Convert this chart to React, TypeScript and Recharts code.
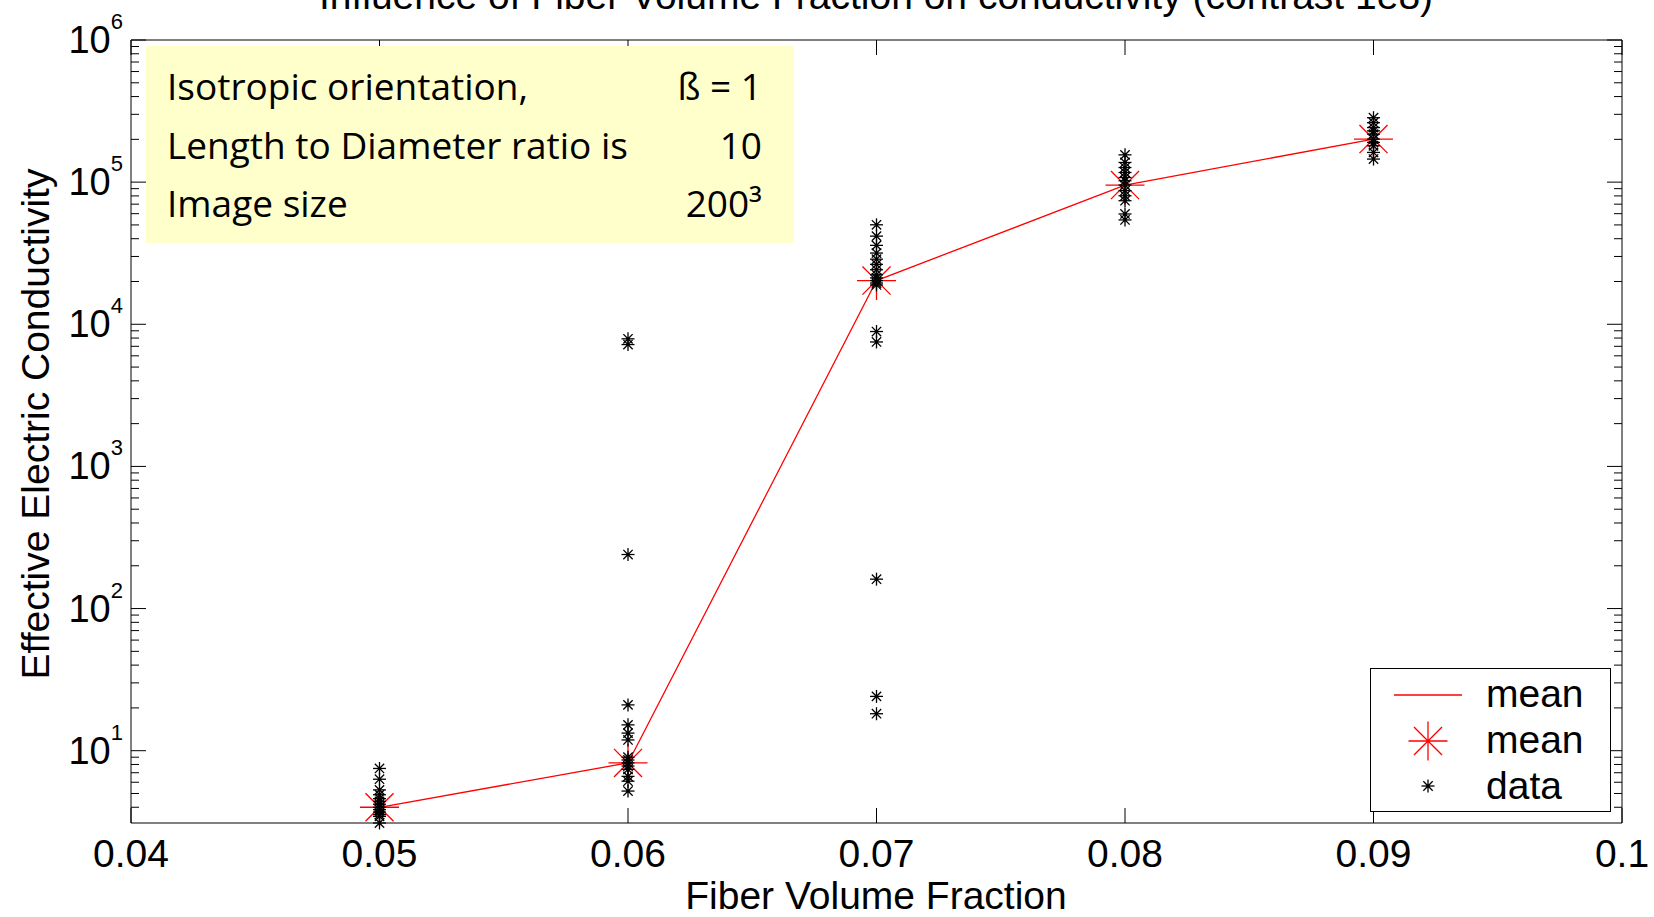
import React from "react";
import { ScatterChart, Scatter, XAxis, YAxis, Legend } from "recharts";

const W = 1654;
const H = 917;
const SANS = '"Liberation Sans", Arial, Helvetica, sans-serif';
const BOX_FONT = '"Open Sans", "Noto Sans", sans-serif';

// fiber volume fractions and the mean conductivity at each
const FRACTIONS = [0.05, 0.06, 0.07, 0.08, 0.09];
const MEAN_CONDUCTIVITY = [4.0, 8.2, 20300, 95400, 200800];

// individual samples
const SAMPLES_005 = [7.5, 6.3, 5.3, 4.9, 4.6, 4.4, 4.2, 4.0, 3.85, 3.7, 3.55, 3.45, 3.1];
const SAMPLES_006 = [7900, 7200, 240, 21, 15.2, 13.3, 11.9, 9.0, 8.6, 8.2, 7.8, 7.4, 6.6, 6.1, 5.2];
const SAMPLES_007 = [50100, 41700, 35900, 31700, 28700, 26400, 24200, 22300, 21200, 20300, 19500, 18900, 8890, 7510, 161, 24.1, 18.2];
const SAMPLES_008 = [155600, 137500, 126700, 116900, 107800, 102300, 95400, 87100, 80200, 74000, 59700, 54200];
const SAMPLES_009 = [284000, 262000, 242000, 229500, 217600, 200800, 190200, 180300, 161800, 145300];
const SAMPLES = [SAMPLES_005, SAMPLES_006, SAMPLES_007, SAMPLES_008, SAMPLES_009];

const X_TICKS = [0.04, 0.05, 0.06, 0.07, 0.08, 0.09, 0.1];
const X_TICK_LABELS = ["0.04", "0.05", "0.06", "0.07", "0.08", "0.09", "0.1"];
const Y_MAJOR_TICKS = [10, 100, 1000, 10000, 100000, 1000000];
const Y_EXPONENTS = ["1", "2", "3", "4", "5", "6"];
const Y_DOMAIN = [3.1, 1000000];

const INFO_LABELS = ["Isotropic orientation,", "Length to Diameter ratio is", "Image size"];
const INFO_VALUES = ["ß = 1", "10", "200³"];

const LEGEND_LABELS = ["mean", "mean", "data"];

// log minor ticks 2..9 within each decade
const Y_MINOR_TICKS = [1, 10, 100, 1000, 10000, 100000]
  .flatMap((d) => [2, 3, 4, 5, 6, 7, 8, 9].map((m) => m * d))
  .filter((v) => v >= Y_DOMAIN[0]);
const Y_TICKS = [...Y_MINOR_TICKS, ...Y_MAJOR_TICKS].sort((a, b) => a - b);

const meanPoints = FRACTIONS.map((x, i) => ({ x, y: MEAN_CONDUCTIVITY[i] }));
const samplePoints = FRACTIONS.flatMap((x, i) => SAMPLES[i].map((y) => ({ x, y })));

const MAJOR_TICK = 15;
const MINOR_TICK = 8;

function Asterisk({ cx, cy, r, color, width, dot }: any) {
  const d = r * 0.72;
  return (
    <g stroke={color} strokeWidth={width}>
      <line x1={cx - r} y1={cy} x2={cx + r} y2={cy} />
      <line x1={cx} y1={cy - r} x2={cx} y2={cy + r} />
      <line x1={cx - d} y1={cy - d} x2={cx + d} y2={cy + d} />
      <line x1={cx - d} y1={cy + d} x2={cx + d} y2={cy - d} />
      {dot && <circle cx={cx} cy={cy} r={dot} fill={color} stroke="none" />}
    </g>
  );
}

const MeanMarker = (props: any) => (
  <Asterisk cx={props.cx} cy={props.cy} r={19.5} color="#ff0000" width={1.3} dot={1.5} />
);
const DataMarker = (props: any) => (
  <Asterisk cx={props.cx} cy={props.cy} r={6.5} color="#000" width={1.3} dot={1.8} />
);

function BottomTick({ x, y, payload }: any) {
  const k = X_TICKS.indexOf(payload.value);
  return (
    <g>
      <line x1={x} y1={y} x2={x} y2={y - MAJOR_TICK} stroke="#000" />
      <text x={x} y={y + 44} textAnchor="middle" fontSize={39} fill="#000" fontFamily={SANS}>
        {X_TICK_LABELS[k]}
      </text>
    </g>
  );
}

function TopTick({ x, y }: any) {
  return <line x1={x} y1={y} x2={x} y2={y + MAJOR_TICK} stroke="#000" />;
}

function LeftTick({ x, y, payload }: any) {
  const k = Y_MAJOR_TICKS.indexOf(payload.value);
  const len = k >= 0 ? MAJOR_TICK : MINOR_TICK;
  return (
    <g>
      <line x1={x} y1={y} x2={x + len} y2={y} stroke="#000" />
      {k >= 0 && (
        <text x={x - 8} y={y + 13} textAnchor="end" fontSize={38} fill="#000" fontFamily={SANS}>
          10
          <tspan fontSize={22} dy={-24}>
            {Y_EXPONENTS[k]}
          </tspan>
        </text>
      )}
    </g>
  );
}

function RightTick({ x, y, payload }: any) {
  const len = Y_MAJOR_TICKS.includes(payload.value) ? MAJOR_TICK : MINOR_TICK;
  return <line x1={x} y1={y} x2={x - len} y2={y} stroke="#000" />;
}

function LegendBox() {
  const rows = [38, 84, 130];
  return (
    <div style={{ width: 241, height: 144, boxSizing: "border-box", border: "1px solid #000", background: "#fff" }}>
      <svg width={239} height={142} style={{ display: "block" }}>
        <line x1={23} y1={26} x2={91} y2={26} stroke="#ff0000" strokeWidth={1.3} />
        <Asterisk cx={57} cy={72} r={19.5} color="#ff0000" width={1.3} dot={1.5} />
        <Asterisk cx={57} cy={117} r={6.5} color="#000" width={1.3} dot={1.8} />
        {LEGEND_LABELS.map((t, i) => (
          <text key={i} x={115} y={rows[i]} fontSize={39} fill="#000" fontFamily={SANS}>
            {t}
          </text>
        ))}
      </svg>
    </div>
  );
}

export default function App() {
  return (
    <div style={{ position: "absolute", left: 0, top: 0, width: W, height: H, background: "#fff" }}>
      <ScatterChart width={W} height={H} margin={{ top: 39, right: 31, bottom: 0, left: 0 }}>
        <XAxis
          xAxisId="b"
          type="number"
          dataKey="x"
          domain={[0.04, 0.1]}
          ticks={X_TICKS}
          interval={0}
          height={94}
          tickSize={0}
          tickMargin={0}
          tickLine={false}
          axisLine={{ stroke: "#000" }}
          tick={(p: any) => <BottomTick {...p} />}
        />
        <XAxis
          xAxisId="t"
          orientation="top"
          type="number"
          dataKey="x"
          domain={[0.04, 0.1]}
          ticks={X_TICKS}
          interval={0}
          height={1}
          tickSize={0}
          tickMargin={0}
          tickLine={false}
          axisLine={{ stroke: "#000" }}
          tick={(p: any) => <TopTick {...p} />}
        />
        <YAxis
          yAxisId="l"
          type="number"
          dataKey="y"
          scale="log"
          domain={Y_DOMAIN}
          ticks={Y_TICKS}
          interval={0}
          width={131}
          tickSize={0}
          tickMargin={0}
          tickLine={false}
          axisLine={{ stroke: "#000" }}
          tick={(p: any) => <LeftTick {...p} />}
        />
        <YAxis
          yAxisId="r"
          orientation="right"
          type="number"
          dataKey="y"
          scale="log"
          domain={Y_DOMAIN}
          ticks={Y_TICKS}
          interval={0}
          width={1}
          tickSize={0}
          tickMargin={0}
          tickLine={false}
          axisLine={{ stroke: "#000" }}
          tick={(p: any) => <RightTick {...p} />}
        />
        <Legend
          layout="vertical"
          align="center"
          verticalAlign="middle"
          wrapperStyle={{ left: 1370, top: 668, width: 241, height: 144 }}
          content={() => <LegendBox />}
        />
        <Scatter
          name="mean"
          data={meanPoints}
          xAxisId="b"
          yAxisId="l"
          line={{ stroke: "#ff0000", strokeWidth: 1.3 }}
          shape={MeanMarker}
          isAnimationActive={false}
        />
        <Scatter
          name="data"
          data={samplePoints}
          xAxisId="b"
          yAxisId="l"
          shape={DataMarker}
          isAnimationActive={false}
        />
        {/* keeps the mirrored top/right axes scaled */}
        <Scatter
          data={meanPoints}
          xAxisId="t"
          yAxisId="r"
          shape={() => <g />}
          legendType="none"
          isAnimationActive={false}
        />
      </ScatterChart>

      <svg
        width={W}
        height={H}
        style={{ position: "absolute", left: 0, top: 0, pointerEvents: "none" }}
      >
        <text x={876} y={9} textAnchor="middle" fontSize={39} fill="#000" fontFamily={SANS}>
          Influence of Fiber Volume Fraction on conductivity (contrast 1e8)
        </text>
        <text x={876} y={909} textAnchor="middle" fontSize={39} fill="#000" fontFamily={SANS}>
          Fiber Volume Fraction
        </text>
        <text
          x={35}
          y={424}
          transform="rotate(-90 35 424)"
          textAnchor="middle"
          dominantBaseline="central"
          fontSize={39}
          fill="#000"
          fontFamily={SANS}
        >
          Effective Electric Conductivity
        </text>

        <rect x={146} y={46} width={648} height={197} fill="#ffffcc" />
        {INFO_LABELS.map((t, i) => (
          <text key={t} x={167} y={100 + i * 58.5} fontSize={37} fill="#000" fontFamily={BOX_FONT}>
            {t}
          </text>
        ))}
        {INFO_VALUES.map((t, i) => (
          <text key={t} x={762} y={100 + i * 58.5} textAnchor="end" fontSize={37} fill="#000" fontFamily={BOX_FONT}>
            {t}
          </text>
        ))}
      </svg>
    </div>
  );
}
